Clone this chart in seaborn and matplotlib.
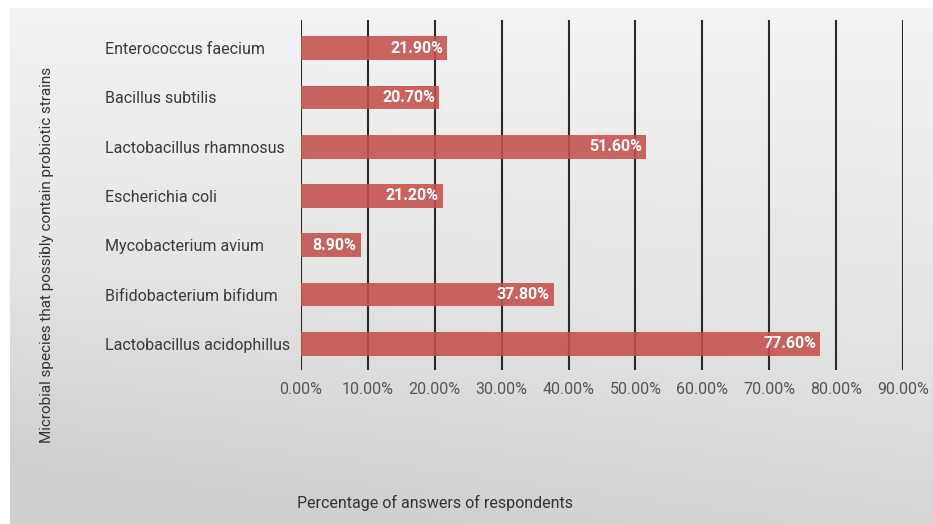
import matplotlib
matplotlib.use("Agg")
import matplotlib.pyplot as plt
import seaborn as sns
import pandas as pd
import numpy as np
from matplotlib.colors import LinearSegmentedColormap

species = ["Enterococcus faecium", "Bacillus subtilis", "Lactobacillus rhamnosus",
           "Escherichia coli", "Mycobacterium avium", "Bifidobacterium bifidum",
           "Lactobacillus acidophillus"]
percent = [21.9, 20.7, 51.6, 21.2, 8.9, 37.8, 77.6]
xticks = [0, 10, 20, 30, 40, 50, 60, 70, 80, 90]

df = pd.DataFrame({"species": species, "percent": percent})

sns.set_theme(style="white")
plt.rcParams["font.family"] = ["Roboto", "DejaVu Sans"]

W, H = 933, 524
fig = plt.figure(figsize=(W / 100, H / 100), dpi=100)
fig.patch.set_facecolor("white")

# gradient background panel
bg = fig.add_axes([10 / W, 0, 1 - 10 / W, 1 - 8 / H], zorder=-10)
cmap = LinearSegmentedColormap.from_list("bg", ["#f3f3f3", "#e6e6e6", "#cfcfcf"])
yy, xx = np.mgrid[0:1:200j, 0:1:200j]
grad = 0.85 * yy + 0.25 * (1 - xx) * yy
bg.imshow(grad, cmap=cmap, aspect="auto", extent=[0, 1, 1, 0], vmin=0, vmax=1)
bg.set_axis_off()

ax = fig.add_axes([301 / W, 1 - 370 / H, (903 - 301) / W, (370 - 20) / H])
ax.set_facecolor("none")

for t in xticks:
    ax.axvline(t, color="#2a2a2a", lw=1.5, zorder=1)

sns.barplot(data=df, x="percent", y="species", orient="h", ax=ax,
            color="#c4504c", alpha=0.88, width=0.48, zorder=2, saturation=1,
            linewidth=0, edgecolor="none")

for i, v in enumerate(percent):
    ax.text(v - 0.6, i, f"{v:.2f}%", color="white", fontweight="bold",
            fontsize=11.5, ha="right", va="center", zorder=3)

ax.set_xlim(0, 90)
ax.set_ylim(6.53, -0.57)
ax.set_xticks(xticks)
ax.set_xticklabels([f"{t:.2f}%" for t in xticks], color="#555555", fontsize=11.5)
ax.tick_params(axis="x", length=0, pad=9)
ax.tick_params(axis="y", length=0, pad=(301 - 105) * 0.72, labelsize=11.5,
               labelcolor="#3a3a3a")
for lab in ax.get_yticklabels():
    lab.set_horizontalalignment("left")
for s in ax.spines.values():
    s.set_visible(False)
ax.set_xlabel("")
ax.set_ylabel("")

fig.text(435 / W, 1 - 503 / H, "Percentage of answers of respondents",
         ha="center", va="center", fontsize=11.5, color="#333333")
fig.text(47 / W, 1 - 255 / H, "Microbial species that possibly contain probiotic strains",
         ha="center", va="center", rotation=90, fontsize=11, color="#333333")

fig.savefig("out.png", dpi=100, facecolor=fig.get_facecolor())
